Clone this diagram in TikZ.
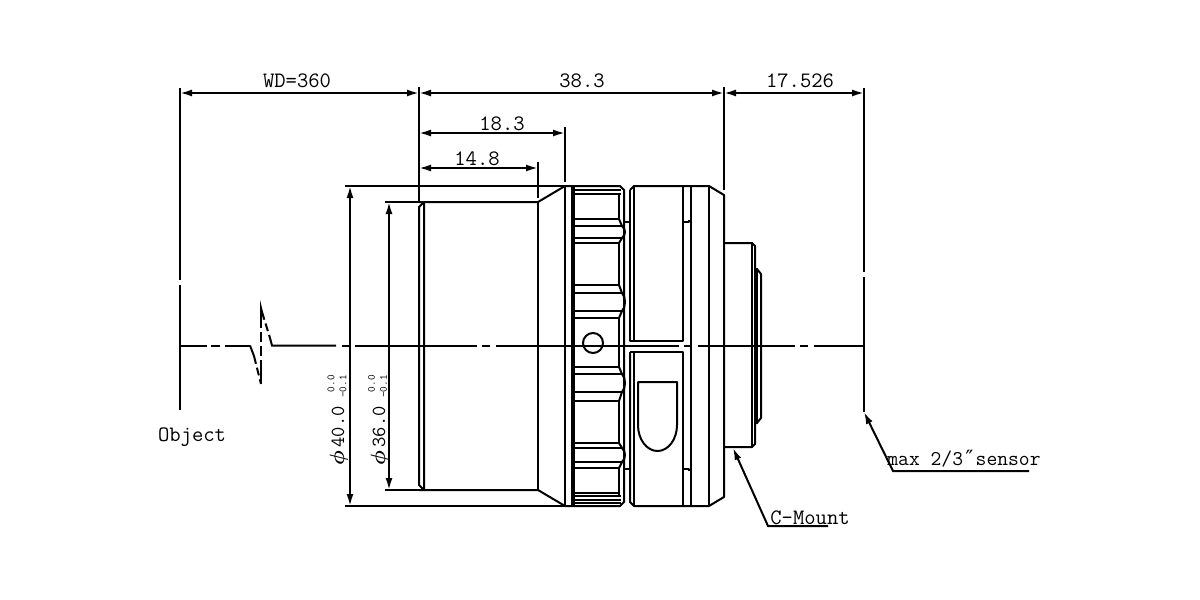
\documentclass[tikz,border=0pt]{standalone}
\usepackage{fontspec}
\usepackage{tikz}
\usetikzlibrary{arrows.meta}
\newfontfamily\symbolfont{DejaVu Sans Mono}
\tikzset{
    part/.style = {line width = 2pt, line join = round},
    thin part/.style = {line width = 1.4pt},
    dim/.style = {line width = 2pt, {Latex[length = 12pt, width = 7pt]}-{Latex[length = 12pt, width = 7pt]}},
    leader/.style = {line width = 2pt, -{Latex[length = 12pt, width = 7pt]}},
    ext/.style = {line width = 2pt},
    label text/.style = {inner sep = 0pt, font = \fontsize{22}{22}\ttfamily},
    side text/.style = {inner sep = 0pt, rotate = 90, font = \fontsize{20}{20}\ttfamily},
    small text/.style = {inner sep = 0pt, rotate = 90, align = right, font = \fontsize{11}{12}\ttfamily},
}
\begin{document}
\begin{tikzpicture}[x = 1pt, y = -1pt]
    \useasboundingbox (0, 0) rectangle (1200, 600);

    \coordinate (wdleft) at (180, 93);
    \coordinate (wdright) at (419, 93);
    \coordinate (backright) at (724, 93);
    \coordinate (sensorright) at (864, 93);
    \coordinate (midleft) at (419, 133);
    \coordinate (midright) at (565, 133);
    \coordinate (lowleft) at (419, 168);
    \coordinate (lowright) at (538, 168);
    \coordinate (outertop) at (350, 186);
    \coordinate (outerbot) at (350, 506);
    \coordinate (innertop) at (389, 202);
    \coordinate (innerbot) at (389, 490);
    \coordinate (mounttip) at (733, 448);
    \coordinate (mountknee) at (768, 526);
    \coordinate (mountend) at (828, 526);
    \coordinate (sensortip) at (864, 412);
    \coordinate (sensorknee) at (893, 471);
    \coordinate (sensorend) at (1029, 471);

    \node (wd) at (297, 81) [label text] {WD=360};
    \node (total) at (582, 81) [label text] {38.3};
    \node (flange) at (800, 81) [label text] {17.526};
    \node (front) at (502, 124) [label text] {18.3};
    \node (barrel) at (477, 159) [label text] {14.8};
    \node (object) at (192, 437) [label text] {Object};
    \node (mount) at (810, 518) [label text] {C-Mount};
    \node (sensor) at (964, 459) [label text, font = \fontsize{21}{21}\ttfamily] {max 2/3{\symbolfont ″}sensor};
    \node (outer) at (339, 436) [side text] {{\boldmath$\phi$}\,40.0};
    \node (inner) at (380, 436) [side text] {{\boldmath$\phi$}\,36.0};
    \node (outertol) at (337, 386.5) [small text] {0.0\\-0.1};
    \node (innertol) at (377.5, 386.5) [small text] {0.0\\-0.1};

    \draw [dim] (wdleft) -- (wdright);
    \draw [dim] (wdright) -- (backright);
    \draw [dim] (backright) -- (sensorright);
    \draw [dim] (midleft) -- (midright);
    \draw [dim] (lowleft) -- (lowright);
    \draw [dim] (outertop) -- (outerbot);
    \draw [dim] (innertop) -- (innerbot);
    \draw [leader] (mountend) -- (mountknee) -- (mounttip);
    \draw [leader] (sensorend) -- (sensorknee) -- (sensortip);

    \draw [ext] (180, 88) -- (180, 280) (180, 285) -- (180, 410);
    \draw [ext] (864, 88) -- (864, 272) (864, 277) -- (864, 412);
    \draw [ext] (419, 87) -- (419, 201);
    \draw [ext] (724, 87) -- (724, 190);
    \draw [ext] (565, 127) -- (565, 182);
    \draw [ext] (538, 162) -- (538, 198);
    \draw [thin part] (345, 186) -- (565, 186);
    \draw [ext] (345, 506) -- (565, 506);
    \draw [thin part] (385, 202) -- (419, 202);
    \draw [thin part] (385, 490) -- (419, 490);

    \draw [ext] (180, 345.5) -- (207, 345.5) (211, 345.5) -- (220, 345.5) (225, 345.5) -- (250, 345.5);
    \draw [ext] (250, 345.5) -- (254, 356);
    \draw [ext, dash pattern = on 8pt off 4pt] (254, 356) -- (261, 384);
    \draw [ext] (261, 384) -- (261, 370);
    \draw [ext, dash pattern = on 10pt off 4pt] (261, 370) -- (261, 320);
    \draw [ext] (261, 320) -- (261, 308) -- (262, 312);
    \draw [ext, dash pattern = on 8pt off 4pt] (262, 312) -- (270, 338);
    \draw [ext] (270, 338) -- (272, 345.5) -- (336, 345.5);
    \draw [ext] (342, 345.5) -- (350, 345.5) (355, 345.5) -- (477, 345.5);
    \draw [ext] (482, 345.5) -- (490, 345.5) (496, 345.5) -- (679, 345.5);
    \draw [ext] (684, 345.5) -- (692, 345.5) (698, 345.5) -- (795, 345.5);
    \draw [ext] (800, 345.5) -- (808, 345.5) (814, 345.5) -- (864, 345.5);

    \draw [part] (419, 202) -- (538, 202) -- (565, 186);
    \draw [part] (419, 490) -- (538, 490) -- (565, 506);
    \draw [part] (419, 207) -- (424, 202) -- (424, 490) -- (419, 485) -- cycle;
    \draw [part] (538, 202) -- (538, 490);

    \draw [part] (565, 186) -- (565, 506);
    \draw [part] (572, 186) -- (572, 506);
    \draw [part] (574, 186) -- (574, 506);
    \draw [part] (565, 186) -- (620, 186) -- (624, 190) -- (624, 502) -- (620, 506) -- (565, 506);
    \foreach \ky in {190, 194, 496, 500, 503} {
        \draw [thin part] (574, \ky) -- (621, \ky);
    }
    \draw [part] (574, 493) -- (620, 493);
    \foreach \ktop/\kinner/\klower/\kbot in {219/226/238/243, 285/293/311/318, 367/374/392/401, 443/448/462/468} {
        \draw [part] (574, \ktop) -- (619, \ktop);
        \draw [part] (574, \kinner) -- (622, \kinner);
        \draw [part] (574, \klower) -- (622, \klower);
        \draw [part] (574, \kbot) -- (619, \kbot);
        \draw [part] (619, \ktop) -- (622, \kinner) .. controls (626, \kinner + 4) and (626, \klower - 4) .. (622, \klower) -- (619, \kbot);
    }
    \foreach \lytop/\lybot in {194/219, 243/285, 318/367, 401/443, 468/496} {
        \draw [thin part] (619, \lytop) -- (619, \lybot);
    }
    \draw [part] (593, 343) circle (10);

    \draw [part] (624, 222) -- (630, 222);
    \draw [part] (624, 469) -- (630, 469);
    \draw [part] (630, 190) -- (634, 186) -- (709, 186) -- (724, 195) -- (724, 497) -- (709, 506) -- (634, 506) -- (630, 502) -- (630, 352);
    \draw [part] (630, 190) -- (630, 341) -- (683, 341) -- (683, 186);
    \draw [part] (634, 186) -- (634, 341);
    \draw [part] (630, 352) -- (683, 352) -- (683, 506);
    \draw [part] (634, 352) -- (634, 506);
    \draw [part] (691, 186) -- (691, 506);
    \draw [part] (709, 186) -- (709, 506);
    \draw [part] (683, 222) -- (689, 222) -- (689, 220);
    \draw [part] (683, 469) -- (689, 469) -- (689, 471);
    \draw [part] (638, 382) -- (677, 382) -- (677, 425) arc (0: 180: 19.5 and 26) -- cycle;

    \draw [part] (724, 243) -- (752, 243) -- (755, 246) -- (755, 444) -- (752, 447) -- (724, 447);
    \draw [part] (752, 243) -- (752, 447);
    \draw [part] (755, 269) -- (757, 269) -- (761, 274) -- (761, 418) -- (757, 423) -- (755, 423);
    \draw [part] (757, 269) -- (757, 423);
\end{tikzpicture}
\end{document}
